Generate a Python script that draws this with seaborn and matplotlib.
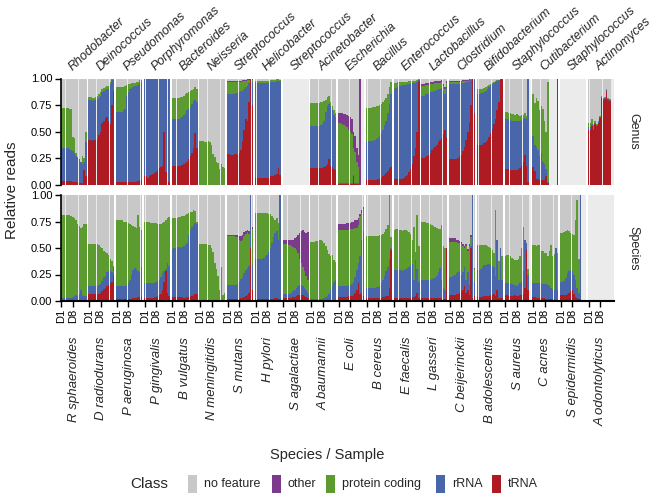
import numpy as np
import pandas as pd
import matplotlib
matplotlib.use("Agg")
from matplotlib import pyplot as plt
from matplotlib.patches import Rectangle
import seaborn as sns

N = None

species = ["R sphaeroides", "D radiodurans", "P aeruginosa", "P gingivalis",
           "B vulgatus", "N meningitidis", "S mutans", "H pylori",
           "S agalactiae", "A baumannii", "E coli", "B cereus", "E faecalis",
           "L gasseri", "C beijerinckii", "B adolescentis", "S aureus",
           "C acnes", "S epidermidis", "A odontolyticus"]
genera = ["Rhodobacter", "Deinococcus", "Pseudomonas", "Porphyromonas",
          "Bacteroides", "Neisseria", "Streptococcus", "Helicobacter",
          "Streptococcus", "Acinetobacter", "Escherichia", "Bacillus",
          "Enterococcus", "Lactobacillus", "Clostridium", "Bifidobacterium",
          "Staphylococcus", "Cutibacterium", "Staphylococcus", "Actinomyces"]
ranks = ["Genus", "Species"]
classes = ["no feature", "other", "protein coding", "rRNA", "tRNA"]
class_colors = ["#C8C8C8", "#7B3A8C", "#5C9B2F", "#4A66AA", "#AE1B23"]
tick_pos = [0, 7]
tick_labels = ["D1", "D8"]
y_ticks = [0, 0.25, 0.5, 0.75, 1.0]
y_tick_labels = ["0.00", "0.25", "0.50", "0.75", "1.00"]

EMPTY = [N] * 16
ZERO = [0] * 16

# percent of reads, cumulative top of each class (tRNA at the bottom)
genus_trna = [
    [4, 4, 4, 4, 4, 4, 4, 3, 3, 3, 3, 2, 2, 2, 14, 8],
    [42, 42, 41, 42, 42, 43, 47, 50, 58, 60, 63, 64, 60, 57, 75, 88],
    [3, 3, 3, 3, 3, 3, 3, 3, 3, 3, 3, 3, 3, 4, 5, 5],
    [8, 8, 7, 8, 9, 10, 11, 12, 14, 16, 17, 18, 50, 12, N, 3],
    [18, 18, 18, 18, 18, 18, 19, 20, 21, 22, 24, 27, 30, 35, 49, 35],
    ZERO,
    [29, 29, 28, 28, 29, 29, 28, 30, 33, 41, 52, 62, 60, 78, 100, 75],
    [7, 7, 7, 7, 7, 7, 7, 7, 7, 8, 8, 8, 9, 10, 16, 9],
    EMPTY,
    [16, 16, 16, 16, 16, 16, 16, 16, 17, 18, 20, 24, 18, 17, 15, 14],
    [1, 1, 1, 1, 1, 1, 1, 1, 1, 8, 1, 1, 1, 0, N, N],
    [5, 5, 5, 5, 5, 5, 5, 6, 6, 7, 8, 9, 11, 13, 16, 17],
    [6, 6, 6, 6, 6, 6, 7, 8, 9, 12, 15, 20, 27, 35, 50, 98],
    [25, 25, 26, 27, 28, 30, 33, 35, 36, 38, 40, 42, 44, 48, 52, 45],
    [24, 24, 24, 24, 24, 25, 27, 28, 32, 36, 42, 50, 58, 75, 100, 68],
    [38, 38, 38, 38, 39, 40, 42, 45, 49, 53, 57, 62, 70, 78, 99, 100],
    [15, 15, 15, 14, 14, 14, 14, 14, 15, 16, 18, 22, 28, 18, 3, N],
    [17, 13, 6, 6, 5, 5, 5, 5, 8, 2, N, N, N, N, N, 100],
    EMPTY,
    [52, 52, 55, 52, 57, 55, 58, 63, 82, 80, 81, 88, 80, 79, N, N],
]
genus_rrna = [
    [35, 35, 35, 35, 35, 34, 33, 32, 30, 27, 25, 24, 22, 20, 22, 40],
    [80, 80, 79, 80, 80, 81, 82, 84, 87, 88, 89, 90, 90, 95, 99, 99],
    [69, 69, 69, 69, 70, 71, 84, 87, 90, 91, 92, 93, 93, 94, 96, 97],
    [100, 100, 100, 100, 100, 100, 100, 100, 100, 100, 100, 100, 100, 100, N, 100],
    [62, 62, 62, 62, 62, 63, 64, 66, 68, 70, 71, 73, 76, 79, 80, 78],
    ZERO,
    [85, 85, 85, 85, 85, 86, 86, 87, 88, 88, 90, 92, 93, 96, 100, 97],
    [96, 96, 96, 96, 96, 96, 96, 96, 96, 97, 97, 97, 97, 98, 98, 98],
    EMPTY,
    [55, 55, 55, 55, 55, 55, 56, 57, 60, 69, 74, 76, 74, 70, 66, 64],
    [2, 2, 2, 2, 2, 2, 2, 2, 2, 9, 2, 2, 2, 0, N, N],
    [41, 41, 41, 41, 41, 42, 43, 44, 46, 49, 52, 56, 60, 68, 76, 85],
    [90, 91, 92, 93, 93, 94, 94, 94, 95, 95, 95, 96, 96, 96, 97, 99],
    [84, 84, 85, 85, 86, 87, 87, 88, 88, 89, 90, 90, 91, 88, 85, 92],
    [95, 95, 95, 95, 95, 95, 95, 96, 96, 96, 97, 97, 98, 99, 100, 99],
    [85, 85, 86, 86, 87, 88, 90, 92, 94, 95, 96, 97, 98, 99, 100, 100],
    [62, 62, 61, 61, 60, 60, 60, 60, 60, 60, 61, 62, 63, 62, 100, N],
    [46, 38, 36, 33, 27, 30, 22, 20, 15, 3, N, N, N, N, N, 100],
    EMPTY,
    [54, 54, 57, 53, 58, 56, 59, 64, 83, 81, 82, 89, 81, 80, N, N],
]
genus_prot = [
    [72, 72, 72, 72, 72, 71, 71, 45, 44, 30, 26, 24, 22, 27, 25, 50],
    [83, 83, 82, 82, 83, 84, 85, 87, 90, 91, 92, 93, 93, 97, 100, 100],
    [92, 92, 92, 92, 92, 93, 94, 95, 95, 96, 96, 96, 97, 97, 99, 99],
    [100, 100, 100, 100, 100, 100, 100, 100, 100, 100, 100, 100, 100, 100, N, 100],
    [82, 82, 82, 82, 82, 83, 83, 84, 85, 86, 87, 88, 89, 90, 92, 90],
    [41, 41, 41, 40, 40, 41, 40, 38, 29, 26, 22, 21, 15, 20, 17, 16],
    [97, 97, 97, 97, 97, 97, 97, 97, 97, 98, 98, 98, 99, 99, 100, 99],
    [98, 98, 98, 98, 98, 98, 98, 98, 98, 99, 99, 99, 99, 100, 100, 99],
    EMPTY,
    [77, 77, 77, 77, 77, 77, 78, 78, 79, 80, 83, 84, 78, 74, 70, 68],
    [58, 58, 57, 56, 55, 54, 52, 50, 48, 35, 31, 22, 17, 0, N, N],
    [72, 72, 72, 72, 73, 73, 74, 74, 75, 76, 78, 80, 82, 85, 92, 97],
    [96, 96, 97, 97, 97, 97, 97, 97, 97, 98, 98, 98, 98, 98, 99, 100],
    [93, 93, 94, 94, 94, 95, 95, 95, 96, 96, 96, 96, 97, 93, 90, 96],
    [97, 97, 97, 97, 97, 97, 97, 97, 98, 98, 98, 98, 99, 100, 100, 100],
    [90, 90, 90, 90, 91, 92, 93, 94, 95, 96, 97, 98, 99, 99, 100, 100],
    [69, 69, 68, 68, 67, 67, 66, 67, 66, 65, 66, 66, 68, 65, 100, N],
    [85, 77, 82, 79, 70, 74, 71, 60, 50, 97, N, N, N, N, N, 100],
    EMPTY,
    [58, 58, 62, 56, 60, 57, 60, 65, 84, 82, 83, 90, 82, 81, N, N],
]
# thickness of the "other" segment on top of protein coding
genus_other = [
    ZERO, ZERO, ZERO, ZERO, ZERO, ZERO,
    [1, 1, 1, 1, 1, 1, 1, 1, 1, 1, 1, 1, 1, 1, 0, 1],
    ZERO, ZERO, ZERO,
    [10, 10, 11, 11, 12, 12, 13, 14, 14, 15, 15, 13, 11, 100, N, N],
    ZERO, ZERO,
    [2, 2, 2, 2, 2, 2, 2, 2, 2, 2, 2, 2, 2, 2, 2, 2],
    [1, 1, 1, 1, 1, 1, 1, 1, 1, 1, 1, 1, 1, 0, 0, 0],
    ZERO, ZERO, ZERO, ZERO, ZERO,
]

species_trna = [
    [1, 1, 1, 1, 1, 1, 1, 1, 1, 1, 1, 1, 1, 1, 1, 1],
    [7, 7, 7, 7, 7, 7, 7, 8, 9, 11, 12, 14, 15, 17, 18, 25],
    [2, 2, 2, 2, 2, 2, 2, 2, 2, 2, 3, 3, 3, 4, 4, 4],
    [3, 3, 3, 3, 3, 3, 4, 4, 5, 6, 7, 10, 18, 28, 8, 5],
    [4, 4, 4, 4, 4, 4, 4, 3, 3, 4, 4, 5, 5, 6, 7, 7],
    ZERO,
    [2, 2, 2, 2, 2, 2, 2, 2, 3, 3, 4, 5, 6, 8, 50, 10],
    [2, 2, 2, 2, 2, 2, 2, 2, 2, 2, 2, 2, 3, 3, 2, 2],
    [3, 3, 3, 3, 3, 3, 4, 4, 5, 6, 6, 6, 6, 5, 4, 3],
    [1, 1, 1, 1, 1, 1, 1, 1, 1, 1, 1, 1, 1, 1, 1, 1],
    [4, 4, 4, 4, 4, 4, 5, 5, 5, 6, 8, 10, 17, 7, 8, 5],
    [3, 3, 3, 3, 3, 3, 3, 3, 3, 3, 4, 4, 5, 5, 12, 48],
    [3, 3, 3, 3, 3, 3, 3, 3, 3, 3, 3, 4, 4, 5, 8, 3],
    [3, 3, 3, 3, 3, 3, 3, 3, 3, 3, 3, 3, 3, 2, 2, 50],
    [6, 6, 6, 6, 7, 7, 8, 9, 10, 14, 8, 10, 6, 50, 3, 5],
    [4, 4, 4, 4, 5, 5, 5, 5, 6, 6, 7, 5, 10, 3, 3, 3],
    [6, 6, 5, 5, 5, 5, 6, 5, 5, 6, 6, 7, 12, 48, 10, N],
    [4, 4, 3, 3, 3, 3, 3, 3, 2, 2, 2, 2, 2, 2, 1, 1],
    [6, 6, 6, 6, 7, 8, 9, 10, 7, 4, 3, 2, 2, N, N, N],
    EMPTY,
]
species_rrna = [
    [3, 3, 3, 3, 3, 3, 3, 4, 5, 6, 5, 7, 10, 6, 5, 5],
    [14, 14, 14, 14, 14, 14, 15, 16, 19, 23, 24, 27, 28, 29, 27, 32],
    [14, 14, 14, 14, 14, 14, 15, 17, 20, 25, 29, 31, 30, 28, 27, 32],
    [17, 17, 17, 17, 17, 17, 17, 18, 19, 20, 23, 26, 28, 30, 36, 33],
    [49, 50, 50, 51, 51, 50, 51, 52, 53, 55, 62, 67, 70, 72, 74, 73],
    ZERO,
    [15, 15, 15, 15, 15, 15, 16, 18, 21, 23, 26, 29, 31, 33, 100, 34],
    [40, 40, 40, 40, 40, 41, 42, 43, 46, 50, 55, 60, 64, 66, 58, 100],
    [7, 7, 7, 7, 7, 8, 9, 10, 12, 14, 15, 15, 14, 12, 10, 8],
    [2, 2, 2, 2, 2, 2, 2, 2, 3, 4, 5, 7, 10, 14, 18, 20],
    [14, 14, 14, 14, 14, 14, 15, 15, 16, 18, 23, 29, 36, 42, 58, 66],
    [12, 12, 12, 12, 12, 12, 13, 13, 14, 17, 20, 24, 28, 32, 40, 50],
    [29, 29, 29, 29, 29, 28, 29, 30, 31, 32, 34, 35, 20, 39, 30, 18],
    [20, 20, 20, 20, 20, 20, 21, 22, 22, 24, 27, 31, 20, 12, 10, 50],
    [23, 23, 24, 25, 26, 27, 28, 25, 27, 32, 20, 27, 15, 52, 100, 18],
    [29, 29, 30, 32, 34, 34, 35, 35, 34, 33, 32, 24, 58, 20, 50, 20],
    [17, 17, 17, 17, 16, 15, 15, 14, 16, 17, 18, 28, 58, 55, 25, N],
    [17, 17, 17, 17, 17, 17, 16, 16, 16, 15, 14, 12, 11, 10, 50, 10],
    [18, 18, 19, 22, 26, 28, 29, 28, 25, 20, 12, 8, 100, N, N, N],
    EMPTY,
]
species_prot = [
    [81, 81, 81, 81, 81, 81, 80, 79, 78, 76, 73, 71, 69, 70, 73, 73],
    [54, 54, 54, 54, 54, 54, 53, 51, 50, 47, 46, 45, 43, 40, 38, 33],
    [76, 76, 76, 76, 75, 75, 75, 74, 73, 72, 71, 70, 69, 81, 70, 67],
    [75, 75, 75, 75, 74, 74, 74, 74, 73, 73, 73, 74, 75, 76, 78, 79],
    [78, 78, 78, 78, 79, 79, 80, 80, 81, 82, 83, 84, 84, 86, 85, 75],
    [54, 54, 54, 54, 54, 53, 53, 50, 46, 36, 30, 24, 10, 32, 6, 8],
    [61, 61, 61, 61, 61, 60, 60, 58, 57, 58, 61, 63, 65, 63, 100, 68],
    [83, 83, 83, 83, 83, 83, 83, 83, 82, 82, 80, 78, 76, 78, 74, 100],
    [54, 54, 54, 53, 53, 52, 51, 50, 48, 45, 40, 36, 32, 28, 24, 20],
    [56, 56, 56, 57, 57, 58, 58, 57, 55, 52, 48, 44, 42, 43, 39, 37],
    [67, 67, 67, 67, 67, 67, 67, 68, 68, 68, 69, 69, 72, 80, 83, 87],
    [61, 61, 61, 61, 61, 61, 61, 61, 62, 62, 63, 65, 68, 72, 100, 60],
    [67, 68, 68, 67, 67, 66, 67, 67, 66, 65, 63, 58, 70, 46, 81, 52],
    [75, 75, 75, 74, 74, 73, 72, 71, 70, 69, 68, 68, 72, 52, 50, 50],
    [56, 56, 56, 56, 56, 55, 55, 54, 52, 50, 52, 47, 52, 60, 100, 30],
    [53, 53, 53, 53, 53, 53, 52, 51, 50, 48, 45, 86, 58, 38, 50, 42],
    [42, 43, 43, 42, 41, 40, 39, 39, 40, 42, 50, 70, 58, 55, 30, N],
    [53, 53, 52, 53, 53, 47, 47, 45, 45, 42, 47, 53, 42, 44, 50, 45],
    [64, 64, 65, 66, 67, 66, 64, 63, 62, 76, 95, 40, 100, N, N, N],
    EMPTY,
]
species_other = [
    ZERO, ZERO, ZERO, ZERO, ZERO, ZERO,
    [1, 1, 1, 1, 1, 2, 2, 3, 4, 4, 4, 3, 2, 3, 0, 2],
    ZERO,
    [4, 4, 4, 5, 5, 6, 7, 9, 12, 17, 24, 30, 35, 37, 40, 45],
    ZERO,
    [6, 6, 6, 6, 6, 7, 7, 6, 7, 7, 7, 7, 6, 2, 3, 2],
    ZERO, ZERO, ZERO,
    [3, 3, 3, 3, 2, 3, 2, 2, 2, 2, 2, 2, 2, 2, 0, 1],
    ZERO, ZERO, ZERO, ZERO, ZERO,
]

W, H = 662, 495
X0, PITCH, PW = 60.5, 27.75, 26.2
ROW_TOP = [78.5, 195.0]
ROW_H = [106.5, 106.0]


def draw_panel(ax, trna, rrna, prot, other):
    df = pd.DataFrame({"bar": range(16),
                       "tRNA": np.array(trna, dtype=float) / 100,
                       "rRNA": np.array(rrna, dtype=float) / 100,
                       "prot": np.array(prot, dtype=float) / 100,
                       "oth": np.array(other, dtype=float) / 100})
    df["other_top"] = df["prot"] + df["oth"]
    df["nofeat"] = np.where(df["prot"].notna(), 1.0, np.nan)
    for col, color in zip(["nofeat", "other_top", "prot", "rRNA", "tRNA"],
                          class_colors):
        sub = df[df[col].notna()]
        if len(sub) == 0:
            continue
        sns.barplot(data=sub, x="bar", y=col, order=list(range(16)),
                    color=color, saturation=1, width=0.9, errorbar=None,
                    linewidth=0, ax=ax)


sns.set_style("white")
plt.rcParams["font.family"] = ["Liberation Sans", "DejaVu Sans"]

fig = plt.figure(figsize=(W / 100, H / 100), dpi=100)

data = [(genus_trna, genus_rrna, genus_prot, genus_other),
        (species_trna, species_rrna, species_prot, species_other)]

for r in range(2):
    for i in range(20):
        left = X0 + i * PITCH
        ax = fig.add_axes([left / W, 1 - (ROW_TOP[r] + ROW_H[r]) / H,
                           PW / W, ROW_H[r] / H])
        ax.set_facecolor("#EBEBEB")
        tr, rr, pr, ot = data[r]
        draw_panel(ax, tr[i], rr[i], pr[i], ot[i])
        ax.set_xlim(-0.55, 15.55)
        ax.set_ylim(0, 1)
        ax.set_xlabel("")
        ax.set_ylabel("")
        for s in ["top", "right"]:
            ax.spines[s].set_visible(False)
        if i == 0:
            ax.spines["left"].set_color("black")
            ax.spines["left"].set_linewidth(1.2)
            ax.set_yticks(y_ticks)
            ax.set_yticklabels(y_tick_labels, fontsize=8, color="black")
            ax.tick_params(axis="y", left=True, length=4, width=1,
                           color="black", pad=2)
        else:
            ax.spines["left"].set_visible(False)
            ax.set_yticks([])
        if r == 1:
            ax.spines["bottom"].set_color("black")
            ax.spines["bottom"].set_linewidth(1.5)
            ax.set_xticks(tick_pos)
            ax.set_xticklabels(tick_labels, rotation=90, fontsize=8,
                               color="black")
            ax.tick_params(axis="x", bottom=True, length=4, width=1,
                           color="black", pad=1.5)
        else:
            ax.spines["bottom"].set_visible(False)
            ax.set_xticks([])

# strips
for i in range(20):
    cx = X0 + i * PITCH + PW / 2
    fig.text((cx + 1) / W, 1 - 73 / H, genera[i], rotation=43,
             rotation_mode="anchor", ha="left", va="bottom",
             style="italic", fontsize=9)
    fig.text(cx / W, 1 - 337 / H, species[i], rotation=90, ha="center",
             va="top", style="italic", fontsize=9.5)

for r in range(2):
    cy = ROW_TOP[r] + ROW_H[r] / 2
    fig.text(633 / W, 1 - cy / H, ranks[r], rotation=-90, ha="center",
             va="center", fontsize=9)

fig.text(12 / W, 1 - 190 / H, "Relative reads", rotation=90, ha="center",
         va="center", fontsize=11)
fig.text(327 / W, 1 - 455 / H, "Species / Sample", ha="center",
         va="center", fontsize=10.5)

# legend
fig.text(130 / W, 1 - 484 / H, "Class", ha="left", va="center", fontsize=11)
patch_x = [188, 272, 326, 436, 492]
for px, lab, col in zip(patch_x, classes, class_colors):
    fig.add_artist(Rectangle((px / W, 1 - 493 / H), 9 / W, 18 / H,
                             transform=fig.transFigure, color=col, lw=0))
    fig.text((px + 16) / W, 1 - 484 / H, lab, ha="left", va="center",
             fontsize=9)

fig.savefig("out.png", dpi=100)
